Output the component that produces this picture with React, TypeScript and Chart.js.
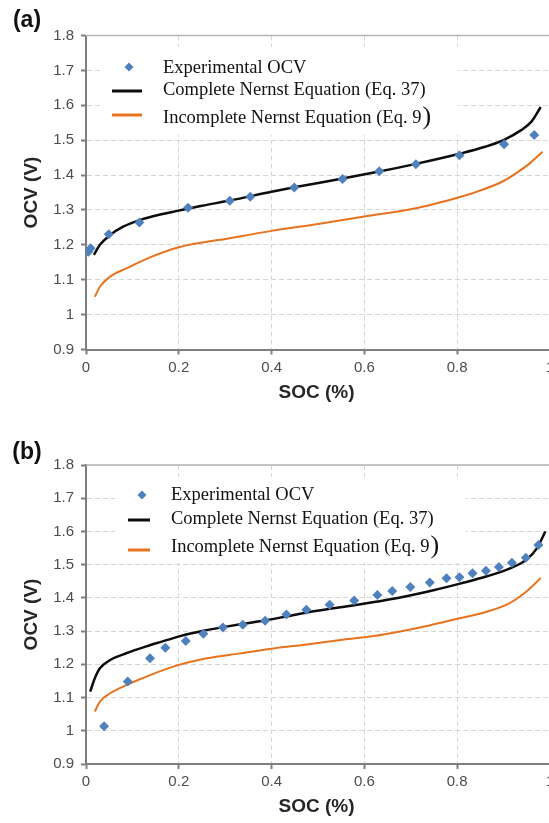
import { useEffect, useRef } from 'react';
import { Chart, registerables } from 'chart.js';

Chart.register(...registerables);

// ---------- shared labels / ticks ----------
const socTicks = [0, 0.2, 0.4, 0.6, 0.8, 1];
const ocvTicks = [0.9, 1.0, 1.1, 1.2, 1.3, 1.4, 1.5, 1.6, 1.7, 1.8];
const seriesNames = ['Experimental OCV', 'Complete Nernst Equation (Eq. 37)', 'Incomplete Nernst Equation (Eq. 9)'];
const xTitle = 'SOC (%)';
const yTitle = 'OCV (V)';
const panelLabels = ['(a)', '(b)'];

// ---------- panel (a) ----------
const expSocA = [0.005, 0.010, 0.049, 0.115, 0.220, 0.310, 0.354, 0.449, 0.553, 0.632, 0.711, 0.805, 0.901, 0.966];
const expOcvA = [1.180, 1.190, 1.230, 1.264, 1.306, 1.326, 1.338, 1.364, 1.389, 1.411, 1.431, 1.457, 1.488, 1.515];

const compSocA = [0.017, 0.030, 0.052, 0.080, 0.116, 0.160, 0.200, 0.250, 0.310, 0.400, 0.449, 0.553, 0.632, 0.711, 0.805, 0.860, 0.901, 0.937, 0.960, 0.980];
const compOcvA = [1.171, 1.200, 1.228, 1.252, 1.271, 1.287, 1.298, 1.312, 1.327, 1.352, 1.365, 1.390, 1.410, 1.432, 1.461, 1.481, 1.501, 1.528, 1.553, 1.595];

const incSocA = [0.019, 0.030, 0.052, 0.088, 0.138, 0.200, 0.310, 0.400, 0.500, 0.600, 0.711, 0.773, 0.833, 0.900, 0.932, 0.955, 0.984];
const incOcvA = [1.051, 1.080, 1.109, 1.133, 1.164, 1.193, 1.219, 1.240, 1.260, 1.281, 1.305, 1.325, 1.348, 1.383, 1.410, 1.432, 1.467];

// ---------- panel (b) ----------
const expSocB = [0.039, 0.090, 0.138, 0.171, 0.215, 0.253, 0.295, 0.338, 0.386, 0.432, 0.475, 0.525, 0.578, 0.628, 0.660, 0.699, 0.741, 0.777, 0.805, 0.833, 0.862, 0.890, 0.918, 0.948, 0.975];
const expOcvB = [1.014, 1.148, 1.218, 1.250, 1.270, 1.292, 1.311, 1.319, 1.331, 1.350, 1.364, 1.379, 1.392, 1.409, 1.421, 1.433, 1.446, 1.459, 1.462, 1.474, 1.482, 1.493, 1.506, 1.521, 1.559];

const compSocB = [0.009, 0.019, 0.030, 0.052, 0.088, 0.130, 0.160, 0.203, 0.253, 0.296, 0.339, 0.385, 0.431, 0.476, 0.525, 0.578, 0.628, 0.677, 0.749, 0.806, 0.864, 0.914, 0.950, 0.972, 0.990];
const compOcvB = [1.118, 1.158, 1.188, 1.213, 1.234, 1.254, 1.267, 1.285, 1.301, 1.312, 1.322, 1.332, 1.344, 1.356, 1.367, 1.378, 1.389, 1.401, 1.423, 1.443, 1.465, 1.489, 1.516, 1.550, 1.600];

const incSocB = [0.019, 0.030, 0.052, 0.088, 0.116, 0.188, 0.260, 0.332, 0.404, 0.476, 0.548, 0.620, 0.677, 0.740, 0.800, 0.860, 0.910, 0.950, 0.980];
const incOcvB = [1.058, 1.088, 1.113, 1.138, 1.155, 1.193, 1.218, 1.233, 1.248, 1.260, 1.273, 1.285, 1.299, 1.317, 1.337, 1.357, 1.382, 1.420, 1.460];

// ---------- styling ----------
const EXP_COLOR = '#4f81bd';
const COMP_COLOR = '#0d0d0d';
const INC_COLOR = '#e8731f';
const SANS = '"Liberation Sans", Arial, Helvetica, sans-serif';
const SERIF = '"Liberation Serif", "Times New Roman", Times, serif';

const CANVAS_W = 575;

type Legend = {
  box: [number, number, number, number];
  markerX: number;
  lineX1: number;
  lineX2: number;
  textX: number;
  rowY: [number, number, number];
  lineY: [number, number, number];
};

type PanelDef = {
  label: string;
  top: number;
  height: number;
  padTop: number;
  plotBottom: number;
  labelY: number;
  expSoc: number[];
  expOcv: number[];
  compSoc: number[];
  compOcv: number[];
  incSoc: number[];
  incOcv: number[];
  legend: Legend;
};

const zip = (xs: number[], ys: number[]) => xs.map((x, i) => ({ x, y: ys[i] }));
const fmt = (v: number) => String(Math.round(v * 10) / 10);

function makeOverlay(p: PanelDef) {
  return {
    id: 'overlay',
    beforeDatasetsDraw(chart: any) {
      const { ctx, chartArea } = chart;
      const L = p.legend;
      ctx.save();
      ctx.strokeStyle = '#b5b5b5';
      ctx.lineWidth = 1.5;
      ctx.beginPath();
      ctx.moveTo(chartArea.left, chartArea.top);
      ctx.lineTo(chartArea.right, chartArea.top);
      ctx.stroke();
      ctx.fillStyle = '#ffffff';
      ctx.fillRect(L.box[0], L.box[1], L.box[2], L.box[3]);
      ctx.restore();
    },
    afterDraw(chart: any) {
      const { ctx, chartArea } = chart;
      const L = p.legend;
      ctx.save();
      const r = 4.5;
      ctx.fillStyle = EXP_COLOR;
      ctx.beginPath();
      ctx.moveTo(L.markerX - r, L.lineY[0]);
      ctx.lineTo(L.markerX, L.lineY[0] - r);
      ctx.lineTo(L.markerX + r, L.lineY[0]);
      ctx.lineTo(L.markerX, L.lineY[0] + r);
      ctx.closePath();
      ctx.fill();
      ctx.lineWidth = 3;
      ctx.strokeStyle = COMP_COLOR;
      ctx.beginPath();
      ctx.moveTo(L.lineX1, L.lineY[1]);
      ctx.lineTo(L.lineX2, L.lineY[1]);
      ctx.stroke();
      ctx.strokeStyle = INC_COLOR;
      ctx.beginPath();
      ctx.moveTo(L.lineX1, L.lineY[2]);
      ctx.lineTo(L.lineX2, L.lineY[2]);
      ctx.stroke();
      ctx.fillStyle = '#111111';
      ctx.textAlign = 'left';
      ctx.textBaseline = 'middle';
      ctx.font = `18.5px ${SERIF}`;
      ctx.fillText(seriesNames[0], L.textX, L.rowY[0]);
      ctx.fillText(seriesNames[1], L.textX, L.rowY[1]);
      const last = seriesNames[2];
      const main = last.slice(0, -1);
      ctx.fillText(main, L.textX, L.rowY[2]);
      const w = ctx.measureText(main).width;
      ctx.font = `26px ${SERIF}`;
      ctx.fillText(last.slice(-1), L.textX + w + 1, L.rowY[2] - 1);
      ctx.fillStyle = '#262626';
      ctx.font = `bold 19px ${SANS}`;
      ctx.textAlign = 'center';
      ctx.fillText(xTitle, (chartArea.left + chartArea.right) / 2 - 1.5, chartArea.bottom + 43);
      ctx.save();
      ctx.translate(32, (chartArea.top + chartArea.bottom) / 2);
      ctx.rotate(-Math.PI / 2);
      ctx.fillText(yTitle, 0, 0);
      ctx.restore();
      ctx.fillStyle = '#111111';
      ctx.font = `bold 23px ${SANS}`;
      ctx.fillText(p.label, 27, p.labelY);
      ctx.restore();
    },
  };
}

function Panel({ p }: { p: PanelDef }) {
  const ref = useRef<HTMLCanvasElement | null>(null);
  useEffect(() => {
    if (!ref.current) return;
    const gridCommon = {
      color: '#d6d6d6',
      lineWidth: 1,
      tickColor: '#7f7f7f',
      tickLength: 5,
      tickWidth: 2,
    };
    const borderCommon = { color: '#7f7f7f', width: 2, dash: [5, 3] };
    const tickFont = { family: SANS, size: 15 };
    const chart = new Chart(ref.current, {
      type: 'scatter',
      data: {
        datasets: [
          {
            label: seriesNames[0],
            data: zip(p.expSoc, p.expOcv),
            showLine: false,
            pointStyle: 'rectRot',
            pointRadius: 5,
            backgroundColor: EXP_COLOR,
            borderColor: EXP_COLOR,
            borderWidth: 0,
            order: 0,
          },
          {
            label: seriesNames[1],
            data: zip(p.compSoc, p.compOcv),
            showLine: true,
            pointRadius: 0,
            borderColor: COMP_COLOR,
            borderWidth: 2.5,
            cubicInterpolationMode: 'monotone',
            order: 1,
          },
          {
            label: seriesNames[2],
            data: zip(p.incSoc, p.incOcv),
            showLine: true,
            pointRadius: 0,
            borderColor: INC_COLOR,
            borderWidth: 2,
            cubicInterpolationMode: 'monotone',
            order: 2,
          },
        ],
      },
      options: {
        responsive: false,
        animation: false,
        devicePixelRatio: 1,
        layout: { padding: { top: p.padTop, right: CANVAS_W - 550, left: 0, bottom: 0 } },
        plugins: { legend: { display: false }, tooltip: { enabled: false } },
        scales: {
          x: {
            type: 'linear',
            min: 0,
            max: 1,
            afterBuildTicks: (s: any) => {
              s.ticks = socTicks.map((v) => ({ value: v }));
            },
            afterFit: (s: any) => {
              s.height = p.height - p.plotBottom;
            },
            grid: gridCommon,
            border: borderCommon,
            ticks: {
              font: tickFont,
              color: '#4d4d4d',
              padding: 4,
              maxRotation: 0,
              autoSkip: false,
              callback: (v: any) => fmt(Number(v)),
            },
          },
          y: {
            type: 'linear',
            min: 0.9,
            max: 1.8,
            afterBuildTicks: (s: any) => {
              s.ticks = ocvTicks.map((v) => ({ value: v }));
            },
            afterFit: (s: any) => {
              s.width = 86;
            },
            grid: gridCommon,
            border: borderCommon,
            ticks: {
              font: tickFont,
              color: '#4d4d4d',
              padding: 7,
              autoSkip: false,
              callback: (v: any) => fmt(Number(v)),
            },
          },
        },
      } as any,
      plugins: [makeOverlay(p)],
    });
    return () => chart.destroy();
  }, [p]);
  return (
    <canvas
      ref={ref}
      width={CANVAS_W}
      height={p.height}
      style={{ position: 'absolute', left: 0, top: p.top, width: CANVAS_W, height: p.height }}
    />
  );
}

const panelA: PanelDef = {
  label: panelLabels[0],
  top: 0,
  height: 410,
  padTop: 35.5,
  plotBottom: 349.5,
  labelY: 21,
  expSoc: expSocA,
  expOcv: expOcvA,
  compSoc: compSocA,
  compOcv: compOcvA,
  incSoc: incSocA,
  incOcv: incOcvA,
  legend: {
    box: [100, 47, 358, 88],
    markerX: 129,
    lineX1: 112,
    lineX2: 142,
    textX: 163,
    rowY: [68, 90, 118],
    lineY: [67, 91, 115],
  },
};

const panelB: PanelDef = {
  label: panelLabels[1],
  top: 410,
  height: 413,
  padTop: 55,
  plotBottom: 354,
  labelY: 43,
  expSoc: expSocB,
  expOcv: expOcvB,
  compSoc: compSocB,
  compOcv: compOcvB,
  incSoc: incSocB,
  incOcv: incOcvB,
  legend: {
    box: [115, 67, 351, 86],
    markerX: 142,
    lineX1: 128,
    lineX2: 150,
    textX: 171,
    rowY: [85, 109, 137],
    lineY: [85, 110, 140],
  },
};

export default function App() {
  return (
    <div
      style={{
        position: 'absolute',
        left: 0,
        top: 0,
        width: 549,
        height: 823,
        overflow: 'hidden',
        background: '#ffffff',
      }}
    >
      <Panel p={panelA} />
      <Panel p={panelB} />
    </div>
  );
}
